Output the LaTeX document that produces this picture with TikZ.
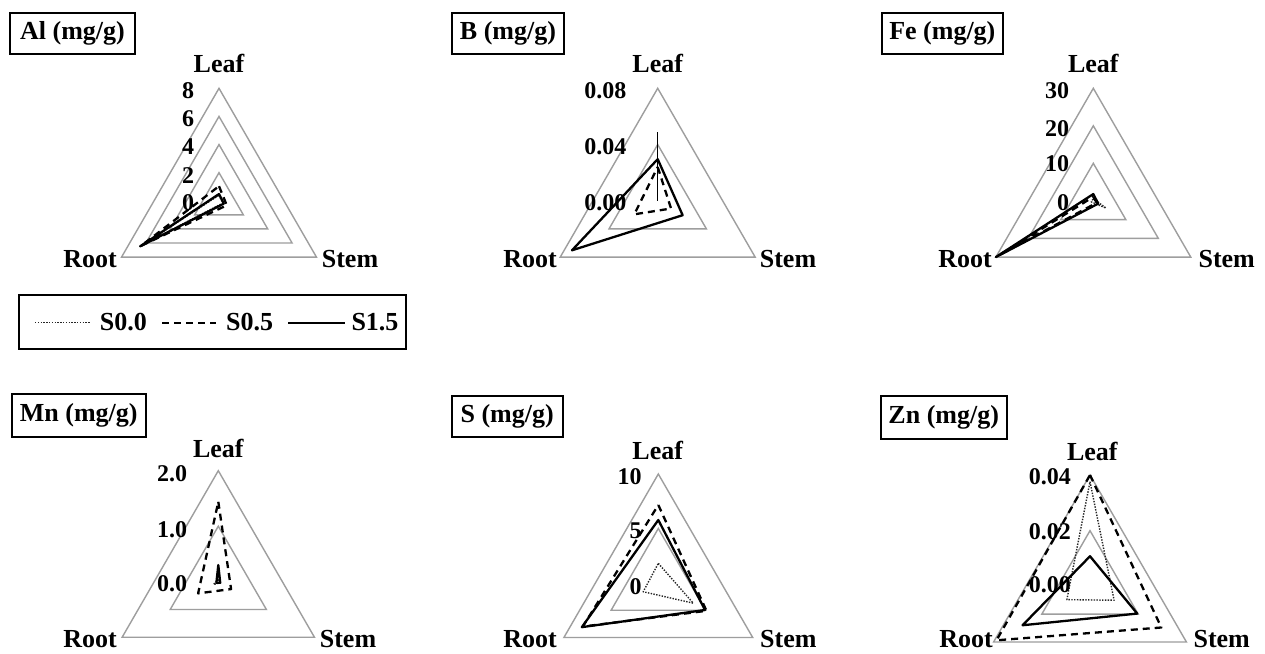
\documentclass[tikz,border=0pt]{standalone}
\usepackage{fontspec}
\setmainfont{Liberation Serif}
\newcommand\radtri[4][]{\draw[#1] (270:{#2*\R}) -- (30:{#3*\R}) -- (150:{#4*\R}) -- cycle;}
\newcommand\radrings[1]{\foreach \f in {#1} {\draw[ring] (270:{\f*\R}) -- (30:{\f*\R}) -- (150:{\f*\R}) -- cycle;}}
\begin{document}
\begin{tikzpicture}[x=1pt,y=-1pt,
  ring/.style={draw=black!38, line width=1.4pt, line join=miter},
  sA/.style={draw=black!85, line width=1.4pt, dash pattern=on 1.4pt off 1.4pt, line join=round},
  sB/.style={draw=black, line width=2.3pt, dash pattern=on 7pt off 5pt, line join=round},
  sC/.style={draw=black, line width=2.3pt, line join=round},
  cat/.style={font=\bfseries\fontsize{26}{30}\selectfont, inner sep=0pt},
  tick/.style={font=\bfseries\fontsize{24}{28}\selectfont, inner sep=0pt, anchor=east},
  title/.style={draw, line width=2pt, font=\bfseries\fontsize{26}{30}\selectfont, inner sep=0pt, minimum height=41pt},
  leg/.style={font=\bfseries\fontsize{26}{30}\selectfont, inner sep=0pt}]
\useasboundingbox (0,0) rectangle (1265,653);
\fill[white] (0,0) rectangle (1265,653);

% ---------------- Al ----------------
\begin{scope}[shift={(219,200.8)}]
  \def\R{112.5}
  \radrings{0.25,0.5,0.75,1}
  \radtri[sA]{0.05}{0.04}{0.78}
  \radtri[sB]{0.13}{0.08}{0.80}
  \radtri[sC]{0.06}{0.05}{0.81}
\end{scope}
\node[title, minimum width=125pt] (tAl) at (72.5,33.5) {Al (mg/g)};
\node[cat] (alLeaf) at (219,63) {Leaf};
\node[cat] (alRoot) at (90,259) {Root};
\node[cat] (alStem) at (350,259) {Stem};
\node[tick] (al8) at (194.3,90.7) {8};
\node[tick] (al6) at (194.3,119) {6};
\node[tick] (al4) at (194.3,147) {4};
\node[tick] (al2) at (194.3,175.5) {2};
\node[tick] (al0) at (194.3,202.5) {0};

% ---------------- B ----------------
\begin{scope}[shift={(657.7,200.8)}]
  \def\R{112.5}
  \radrings{0.5,1}
  \draw[black, line width=0.9pt] (270:{0.61*\R}) -- (0,0);
  \radtri[sB]{0.30}{0.137}{0.24}
  \radtri[sC]{0.37}{0.256}{0.88}
\end{scope}
\node[title, minimum width=112pt] (tB) at (508,33.5) {B (mg/g)};
\node[cat] (bLeaf) at (657.7,63) {Leaf};
\node[cat] (bRoot) at (530,259) {Root};
\node[cat] (bStem) at (788,259) {Stem};
\node[tick] (b8) at (626.5,90.7) {0.08};
\node[tick] (b4) at (626.5,146.7) {0.04};
\node[tick] (b0) at (626.5,202.7) {0.00};

% ---------------- Fe ----------------
\begin{scope}[shift={(1093.3,200.8)}]
  \def\R{112.5}
  \radrings{0.3333,0.6667,1}
  \radtri[sA]{0.02}{0.13}{0.02}
  \radtri[sB]{0.035}{0.035}{0.97}
  \radtri[sC]{0.06}{0.05}{1.0}
\end{scope}
\node[title, minimum width=121.3pt] (tFe) at (942.3,33.5) {Fe (mg/g)};
\node[cat] (feLeaf) at (1093.3,63) {Leaf};
\node[cat] (feRoot) at (965,259) {Root};
\node[cat] (feStem) at (1226.7,259) {Stem};
\node[tick] (fe30) at (1069.3,90.7) {30};
\node[tick] (fe20) at (1069.3,129) {20};
\node[tick] (fe10) at (1069.3,164) {10};
\node[tick] (fe0) at (1069.3,202.7) {0};

% ---------------- Mn ----------------
\begin{scope}[shift={(218.3,581.7)}]
  \def\R{111}
  \radrings{0.5,1}
  \radtri[sA]{0.02}{0.02}{0.05}
  \radtri[sB]{0.72}{0.133}{0.21}
  \radtri[sC]{0.15}{0.02}{0.02}
\end{scope}
\node[title, minimum width=134pt, minimum height=42.7pt] (tMn) at (78.7,415.3) {Mn (mg/g)};
\node[cat] (mnLeaf) at (218.3,448.3) {Leaf};
\node[cat] (mnRoot) at (90,639.5) {Root};
\node[cat] (mnStem) at (348,639.5) {Stem};
\node[tick] (mn2) at (187.3,473.3) {2.0};
\node[tick] (mn1) at (187.3,530) {1.0};
\node[tick] (mn0) at (187.3,584) {0.0};

% ---------------- S ----------------
\begin{scope}[shift={(658.3,583)}]
  \def\R{109}
  \radrings{0.5,1}
  \radtri[sA]{0.18}{0.37}{0.16}
  \radtri[sB]{0.716}{0.51}{0.80}
  \radtri[sC]{0.578}{0.495}{0.81}
\end{scope}
\node[title, minimum width=111pt, minimum height=41.6pt] (tS) at (507.2,416.5) {S (mg/g)};
\node[cat] (sLeaf) at (657.7,450) {Leaf};
\node[cat] (sRoot) at (530,639.5) {Root};
\node[cat] (sStem) at (788.3,639.5) {Stem};
\node[tick] (s10) at (641.7,476.7) {10};
\node[tick] (s5) at (641.7,530.7) {5};
\node[tick] (s0) at (641.7,586.7) {0};

% ---------------- Zn ----------------
\begin{scope}[shift={(1090,586.3)}]
  \def\R{111.3}
  \radrings{0.5,1}
  \radtri[sA]{0.94}{0.25}{0.24}
  \radtri[sB]{1.0}{0.74}{0.97}
  \radtri[sC]{0.27}{0.49}{0.70}
\end{scope}
\node[title, minimum width=126pt, minimum height=43.3pt] (tZn) at (943.7,417.3) {Zn (mg/g)};
\node[cat] (znLeaf) at (1092.3,451.7) {Leaf};
\node[cat] (znRoot) at (966,639) {Root};
\node[cat] (znStem) at (1221.7,639) {Stem};
\node[tick] (zn4) at (1071,476.7) {0.04};
\node[tick] (zn2) at (1071,531.7) {0.02};
\node[tick] (zn0) at (1071,585) {0.00};

% ---------------- Legend ----------------
\node[draw, line width=2pt, minimum width=387pt, minimum height=54.3pt, inner sep=0pt] (legend) at (212.5,322.2) {};
\coordinate (la1) at (35,322.7);  \coordinate (la2) at (90,322.7);
\coordinate (lb1) at (162,322.7); \coordinate (lb2) at (216,322.7);
\coordinate (lc1) at (288.3,322.7); \coordinate (lc2) at (345,322.7);
\draw[sA] (la1) -- (la2);
\draw[sB] (lb1) -- (lb2);
\draw[sC] (lc1) -- (lc2);
\node[leg] (l00) at (123.3,322.2) {S0.0};
\node[leg] (l05) at (249.7,322.2) {S0.5};
\node[leg] (l15) at (375,322.2) {S1.5};
\end{tikzpicture}
\end{document}
